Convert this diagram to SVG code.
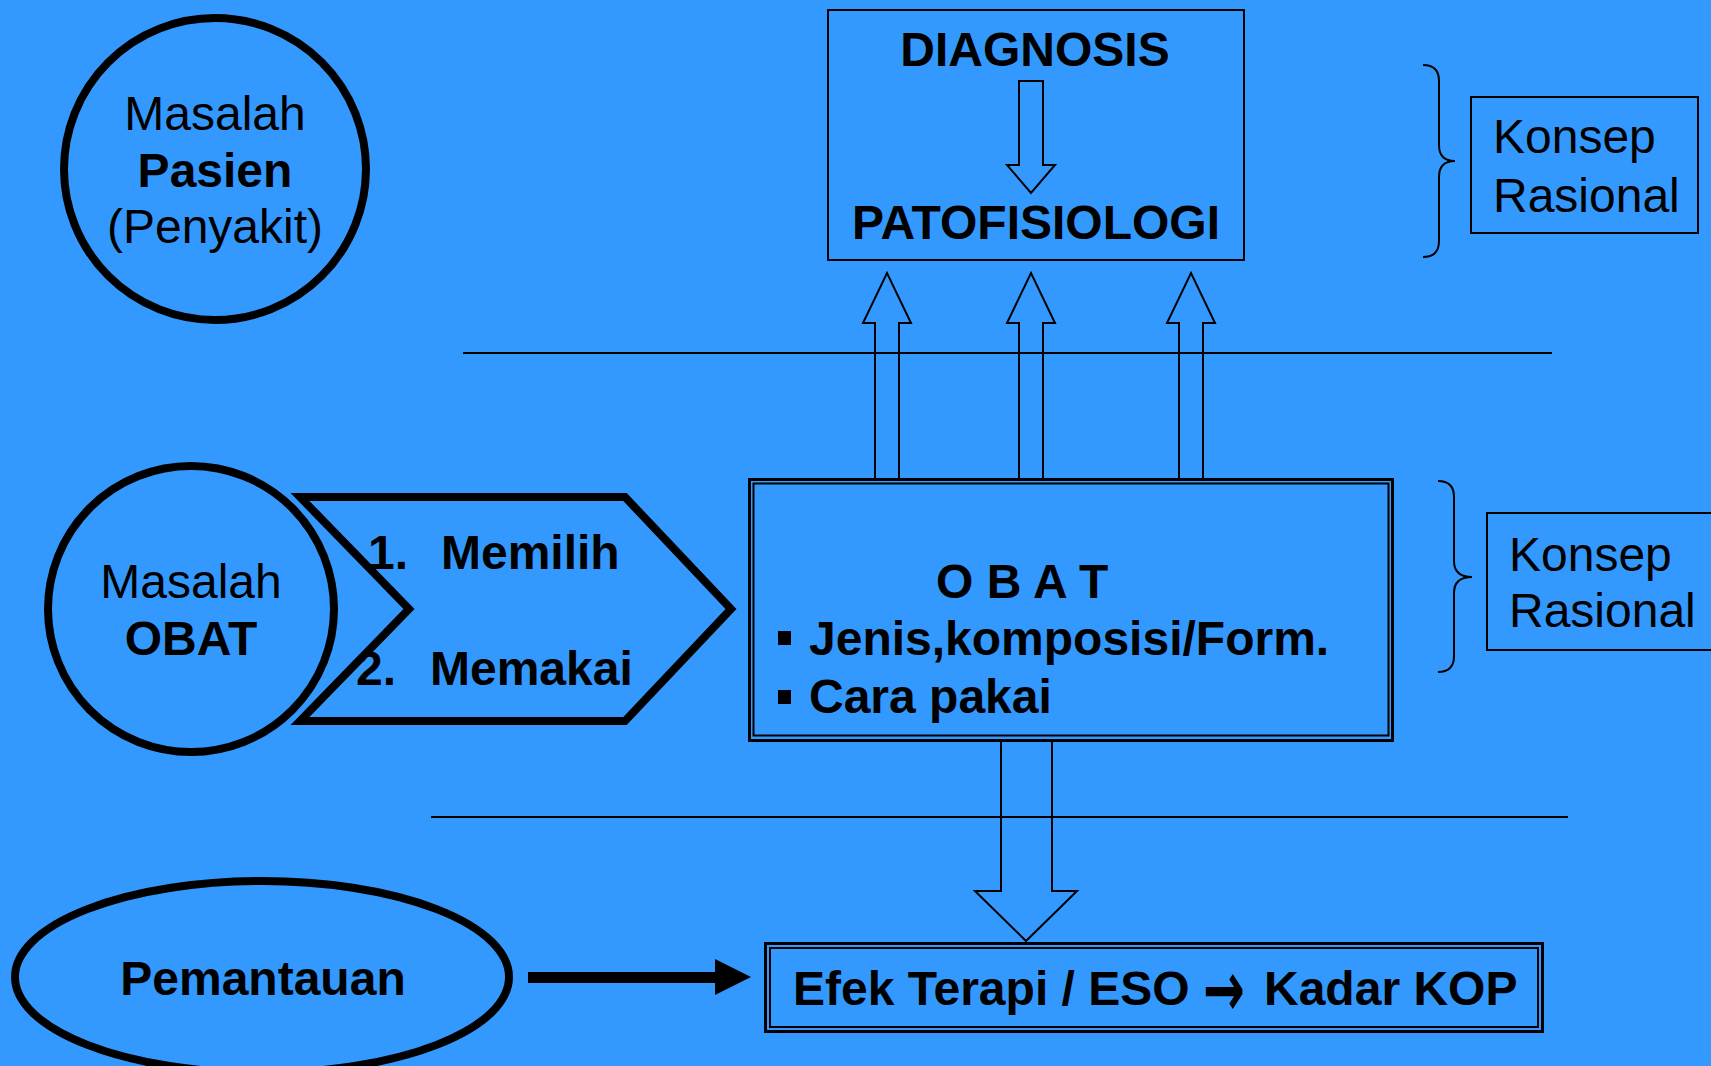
<svg xmlns="http://www.w3.org/2000/svg" width="1711" height="1066" viewBox="0 0 1711 1066">
  <style>
    text { font-family: "Liberation Sans", Arial, sans-serif; fill: #000; }
    .reg { font-size: 48px; }
    .bold { font-size: 48px; font-weight: bold; }
    .sym { font-family: "DejaVu Sans", sans-serif; font-size: 50px; font-weight: bold; }
    .thick { fill: none; stroke: #000; stroke-width: 8; }
    .thin { fill: none; stroke: #000; stroke-width: 2; }
    .mid { fill: none; stroke: #000; stroke-width: 3; }
  </style>

  <rect x="0" y="0" width="1711" height="1066" fill="#3399FF"/>

  <!-- section dividers -->
  <g id="dividers">
    <line x1="463" y1="353" x2="1552" y2="353" class="thin"/>
    <line x1="431" y1="817" x2="1568" y2="817" class="thin"/>
  </g>

  <!-- connectors -->
  <g id="connectors">
    <!-- three hollow arrows rising from OBAT to the diagnosis box -->
    <path class="thin" d="M875,478 V323 H863 L887,273 L911,323 H899 V478"/>
    <path class="thin" d="M1019,478 V323 H1007 L1031,273 L1055,323 H1043 V478"/>
    <path class="thin" d="M1179,478 V323 H1167 L1191,273 L1215,323 H1203 V478"/>
    <!-- hollow arrow down from OBAT to the monitoring result box -->
    <path class="thin" d="M1001,741 V891 H975 L1026,941 L1077,891 H1052 V741"/>
    <!-- solid arrow from Pemantauan -->
    <polygon points="528,972 715,972 715,959 751,977 715,995 715,983 528,983" fill="#000"/>
  </g>

  <g id="masalah-pasien">
    <circle cx="215" cy="169" r="151" class="thick"/>
    <text class="reg" x="215" y="130" text-anchor="middle">Masalah</text>
    <text class="bold" x="215" y="187" text-anchor="middle">Pasien</text>
    <text class="reg" x="215" y="243" text-anchor="middle">(Penyakit)</text>
  </g>

  <g id="diagnosis">
    <rect x="828" y="10" width="416" height="250" class="thin"/>
    <text class="bold" x="1035" y="66" text-anchor="middle">DIAGNOSIS</text>
    <path class="thin" d="M1019,81 H1043 V165 H1055 L1031,193 L1007,165 H1019 Z"/>
    <text class="bold" x="1036" y="239" text-anchor="middle">PATOFISIOLOGI</text>
  </g>

  <g id="konsep-1">
    <path class="thin" d="M1423,65 Q1439,65 1439,81 V145 Q1439,161 1455,161 Q1439,161 1439,177 V241 Q1439,257 1423,257"/>
    <rect x="1471" y="97" width="227" height="136" class="thin"/>
    <text class="reg" x="1493" y="153">Konsep</text>
    <text class="reg" x="1493" y="212">Rasional</text>
  </g>

  <g id="masalah-obat">
    <circle cx="191" cy="609" r="143" class="thick"/>
    <text class="reg" x="191" y="598" text-anchor="middle">Masalah</text>
    <text class="bold" x="191" y="655" text-anchor="middle">OBAT</text>
  </g>

  <g id="memilih-memakai">
    <polygon class="thick" points="300,497 625,497 731,609 625,721 300,721 409,609"/>
    <text class="bold" x="368" y="569">1.</text>
    <text class="bold" x="441" y="569">Memilih</text>
    <text class="bold" x="356" y="685">2.</text>
    <text class="bold" x="430" y="685">Memakai</text>
  </g>

  <g id="obat">
    <rect x="749.5" y="479.5" width="643" height="261" class="mid"/>
    <rect x="753.5" y="483.5" width="635" height="252" class="thin"/>
    <text class="bold" x="936" y="598">O B A T</text>
    <rect x="778" y="631" width="13" height="14" fill="#000"/>
    <text class="bold" x="809" y="655">Jenis,komposisi/Form.</text>
    <rect x="778" y="690" width="13" height="14" fill="#000"/>
    <text class="bold" x="809" y="713">Cara pakai</text>
  </g>

  <g id="konsep-2">
    <path class="thin" d="M1438,481 Q1454,481 1454,497 V561 Q1454,577 1472,577 Q1454,577 1454,593 V656 Q1454,672 1438,672"/>
    <rect x="1487" y="513" width="230" height="137" class="thin"/>
    <text class="reg" x="1509" y="571">Konsep</text>
    <text class="reg" x="1509" y="627">Rasional</text>
  </g>

  <g id="pemantauan">
    <ellipse cx="262" cy="977" rx="247" ry="96" class="thick"/>
    <text class="bold" x="263" y="995" text-anchor="middle">Pemantauan</text>
  </g>

  <g id="efek">
    <rect x="765.5" y="943.5" width="777" height="88" class="mid"/>
    <rect x="770" y="948" width="768" height="79" class="thin"/>
    <text class="bold" y="1005"><tspan x="793">Efek Terapi / ESO</tspan><tspan x="1264">Kadar KOP</tspan></text>
    <text class="sym" transform="translate(1203,989) scale(1,1.55)" x="0" y="0" dy="0.35em">→</text>
  </g>
</svg>
